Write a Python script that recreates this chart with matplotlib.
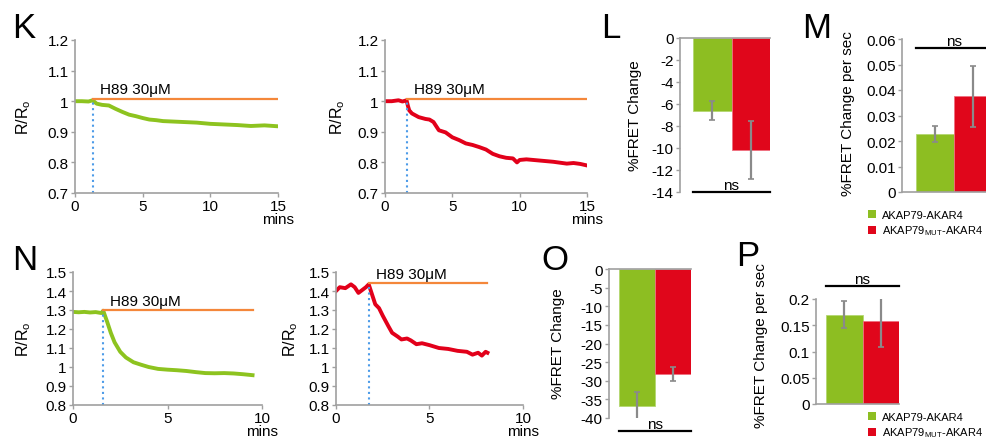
import matplotlib
matplotlib.use("Agg")
import matplotlib.pyplot as plt
from matplotlib.patches import Patch
from matplotlib.ticker import FuncFormatter

plt.rcParams['font.family'] = ['Liberation Sans', 'DejaVu Sans']
plt.rcParams['font.size'] = 11

W, H = 986, 439

# --- trace data (minutes, R/R0) ---
k_green_t = [0, 0.5, 1.0, 1.3, 1.6, 2.0, 2.5, 3.0, 3.5, 4.0, 4.5, 5.0, 5.5, 6.0, 6.5,
             7.0, 7.5, 8.0, 9.0, 10.0, 11.0, 12.0, 13.0, 14.0, 15.0]
k_green_r = [1.0, 1.0, 0.999, 1.003, 0.992, 0.988, 0.986, 0.975, 0.965, 0.956, 0.951,
             0.945, 0.940, 0.938, 0.935, 0.934, 0.933, 0.932, 0.930, 0.926, 0.924,
             0.922, 0.919, 0.921, 0.918]

k_red_t = [0, 0.5, 1.0, 1.3, 1.6, 1.7, 1.8, 2.0, 2.5, 3.0, 3.3, 3.6, 4.0, 4.5, 5.0, 5.5,
           6.0, 6.5, 7.0, 7.5, 8.0, 8.5, 9.0, 9.5, 9.8, 10.0, 10.5, 11.0, 11.5, 12.0,
           12.5, 13.0, 13.5, 14.0, 14.5, 15.0]
k_red_r = [1.0, 1.0, 1.003, 0.999, 1.003, 0.985, 0.97, 0.96, 0.948, 0.942, 0.94, 0.932,
           0.905, 0.898, 0.882, 0.873, 0.862, 0.857, 0.85, 0.842, 0.828, 0.82, 0.815,
           0.813, 0.80, 0.808, 0.81, 0.808, 0.806, 0.804, 0.802, 0.799, 0.796, 0.798,
           0.795, 0.79]

n_green_t = [0, 0.3, 0.6, 0.9, 1.2, 1.5, 1.6, 1.8, 2.0, 2.2, 2.5, 2.8, 3.2, 3.6, 4.0,
             4.5, 5.0, 5.5, 6.0, 6.5, 7.0, 7.5, 8.0, 8.5, 9.0, 9.5]
n_green_r = [1.29, 1.288, 1.29, 1.287, 1.289, 1.284, 1.296, 1.24, 1.18, 1.13, 1.08,
             1.05, 1.025, 1.012, 1.0, 0.99, 0.986, 0.983, 0.979, 0.973, 0.968, 0.967,
             0.968, 0.966, 0.962, 0.957]

n_red_t = [0, 0.2, 0.5, 0.8, 1.0, 1.2, 1.4, 1.6, 1.75, 1.9, 2.1, 2.3, 2.5, 2.8, 3.0,
           3.3, 3.5, 3.8, 4.0, 4.3, 4.6, 5.0, 5.5, 6.0, 6.5, 7.0, 7.3, 7.6, 7.8, 8.0, 8.1]
n_red_r = [1.40, 1.42, 1.415, 1.435, 1.42, 1.39, 1.405, 1.42, 1.435, 1.39, 1.33, 1.31,
           1.27, 1.215, 1.18, 1.16, 1.145, 1.15, 1.14, 1.12, 1.125, 1.115, 1.10, 1.095,
           1.085, 1.08, 1.065, 1.075, 1.06, 1.08, 1.075]

# H89 addition: time, orange bar level, end time
h89_k_green = (1.3, 1.008, 15.0)
h89_k_red = (1.6, 1.008, 15.0)
h89_n_green = (1.6, 1.30, 9.5)
h89_n_red = (1.75, 1.44, 8.1)

# --- bar data ---
groups = ['AKAP79-AKAR4', r'AKAP79$_\mathregular{MUT}$-AKAR4']
l_vals, l_err = [-6.6, -10.2], [0.85, 2.65]
m_vals, m_err = [0.0228, 0.0375], [0.003, 0.012]
o_vals, o_err = [-36.8, -28.2], [3.7, 2.0]
p_vals, p_err = [0.170, 0.158], [0.026, 0.049]

GREEN_LINE, RED_LINE = '#8dc31f', '#e2001a'
GREEN_BAR, RED_BAR = '#8dbe22', '#e0061b'
ORANGE, BLUE = '#f4873a', '#4c9be8'
GRAY = '#a0a0a0'
ERR = '#8a8a8a'

fmt = FuncFormatter(lambda v, p: '{:g}'.format(round(v, 4)))

fig = plt.figure(figsize=(W / 100, H / 100), dpi=100)


def axbox(l, t, r, b):
    return fig.add_axes([l / W, 1 - b / H, (r - l) / W, (b - t) / H])


def style(ax, left=True, bottom=True, top=False):
    for s in ['left', 'bottom', 'top', 'right']:
        ax.spines[s].set_visible(False)
    for s, on in [('left', left), ('bottom', bottom), ('top', top)]:
        if on:
            ax.spines[s].set_visible(True)
            ax.spines[s].set_color(GRAY)
            ax.spines[s].set_linewidth(1.2)
    ax.tick_params(color=GRAY, width=1.0, length=3, labelsize=11, pad=1.5)
    ax.yaxis.set_major_formatter(fmt)


def trace(box, t, r, color, h89, xmax, ylim, ystep, label_x):
    ax = axbox(*box)
    ax.plot(t, r, color=color, lw=2.8, solid_joinstyle='round')
    t0, lev, tend = h89
    ax.plot([t0, tend], [lev, lev], color=ORANGE, lw=1.6)
    ax.plot([t0, t0], [ylim[0], r[t.index(t0)]], color=BLUE, lw=1.5, ls=':')
    ax.text(t0 + 0.5 * xmax / 15 + 0.05, lev + 0.009 * (ylim[1] - ylim[0]) / 0.5,
            'H89 30\u03bcM', fontsize=11, va='bottom')
    ax.set_xlim(0, xmax)
    ax.set_ylim(*ylim)
    n = int(round((ylim[1] - ylim[0]) / ystep))
    ax.set_yticks([ylim[0] + i * ystep for i in range(n + 1)])
    xt = list(range(0, int(xmax) + 1, 5))
    ax.set_xticks(xt)
    ax.set_xticklabels([str(v) for v in xt[:-1]] + ['%d\nmins' % xt[-1]],
                       linespacing=0.85)
    style(ax)
    ax.set_ylabel(r'$\mathregular{R/R_o}$', fontsize=11.5)
    ax.yaxis.set_label_coords((label_x - box[0]) / (box[2] - box[0]), 0.5)
    return ax


trace((75, 41, 278, 194), k_green_t, k_green_r, GREEN_LINE, h89_k_green, 15,
      (0.7, 1.2), 0.1, 33)
trace((385, 41, 587, 194), k_red_t, k_red_r, RED_LINE, h89_k_red, 15,
      (0.7, 1.2), 0.1, 347)
trace((73, 273, 262, 406), n_green_t, n_green_r, GREEN_LINE, h89_n_green, 10,
      (0.8, 1.5), 0.1, 33)
trace((336, 273, 523, 406), n_red_t, n_red_r, RED_LINE, h89_n_red, 10,
      (0.8, 1.5), 0.1, 300)


def bars(box, vals, err, ylim, yticks, xlim, ns_y, label_xy, negative):
    ax = axbox(*box)
    ax.bar([0, 1], vals, width=1.0, color=[GREEN_BAR, RED_BAR],
           edgecolor=['#b4d870', '#ef7080'], linewidth=0.6, zorder=2)
    ax.errorbar([0, 1], vals, yerr=err, fmt='none', ecolor=ERR, elinewidth=1.6,
                capsize=2, capthick=1.2, zorder=3)
    ax.set_xlim(*xlim)
    ax.set_ylim(*ylim)
    ax.set_yticks(yticks)
    ax.set_xticks([])
    style(ax, left=True, bottom=not negative, top=negative)
    ax.plot([-0.5, 1.5], [ns_y, ns_y], color='black', lw=1.6, clip_on=False)
    ax.text(0.5, ns_y, 'ns', ha='center', va='bottom', fontsize=11)
    ax.set_ylabel('%FRET Change' if negative else '%FRET Change per sec', fontsize=11)
    ax.yaxis.set_label_coords((label_xy[0] - box[0]) / (box[2] - box[0]),
                              (box[3] - label_xy[1]) / (box[3] - box[1]))
    return ax


bars((680, 39, 770, 193), l_vals, l_err, (-14, 0), range(-14, 1, 2),
     (-0.84, 1.5), -14, (642, 116), True)
bars((902, 40, 986, 193), m_vals, m_err, (0, 0.06),
     [i * 0.01 for i in range(7)], (-0.868, 1.342), 0.0565, (855, 114), False)
bars((609, 270, 691, 419), o_vals, o_err, (-40, 0), range(-40, 1, 5),
     (-0.778, 1.5), -43.5, (565, 344), True)
bars((816, 300, 899, 405), p_vals, p_err, (0, 0.2),
     [0, 0.05, 0.1, 0.15, 0.2], (-0.774, 1.5), 0.225, (768, 346), False)

handles = [Patch(facecolor=GREEN_BAR), Patch(facecolor=RED_BAR)]
for yb in (203, 405):
    fig.legend(handles, groups, loc='upper left', fontsize=8,
               bbox_to_anchor=(860 / W, 1 - yb / H), frameon=False,
               handlelength=0.75, handleheight=0.75, handletextpad=0.5,
               labelspacing=0.35, borderpad=0.2)

for letter, x, y in [('K', 12, 38), ('L', 601, 38), ('M', 802, 38),
                     ('N', 12, 270), ('O', 541, 270), ('P', 736, 266)]:
    fig.text(x / W, 1 - y / H, letter, fontsize=25, va='baseline', ha='left')

fig.savefig('out.png', dpi=100)
